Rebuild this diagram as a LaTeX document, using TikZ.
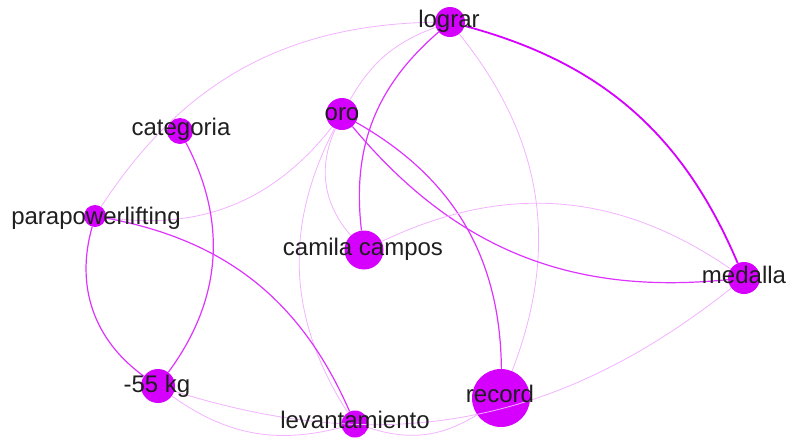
\documentclass[tikz,border=0pt]{standalone}
\usepackage{fontspec}
\setmainfont{Liberation Sans}
\usepackage{tikz}
\definecolor{vert}{RGB}{214,0,255}

\begin{document}
\begin{tikzpicture}[x=1pt,y=1pt,
  vtx/.style={circle,fill=vert,inner sep=0pt,minimum size=#1},
  lbl/.style={anchor=base,inner sep=0pt,text=black!88,font=\fontsize{24}{24}\selectfont},
  wthick/.style={draw=vert,line width=1.8pt},
  wmid/.style={draw=vert!80,line width=1.2pt},
  wthin/.style={draw=vert!30,line width=0.8pt}]
\useasboundingbox (0,0) rectangle (787,-440);
\clip (0,0) rectangle (787,-440);

%Shape: Circle
\node[vtx=30pt] (lograr) at (450,-22) {};
\node[vtx=32pt] (oro) at (342,-114) {};
\node[vtx=26pt] (categoria) at (180,-131) {};
\node[vtx=22pt] (para) at (95,-216) {};
\node[vtx=39pt] (camila) at (364,-250) {};
\node[vtx=32pt] (medalla) at (744,-278) {};
\node[vtx=34pt] (kg) at (158,-386) {};
\node[vtx=27pt] (levant) at (355,-424) {};
\node[vtx=58pt] (record) at (501,-398) {};

%Straight Lines
\draw[wthick] (lograr) to[bend left=26] (medalla);
\draw[wthin] (lograr) to[bend right=28] (para);
\draw[wthin] (lograr) to[bend right=20] (oro);
\draw[wmid] (lograr) to[bend right=28] (camila);
\draw[wthin] (lograr) to[bend left=30] (record);
\draw[wmid] (oro) to[bend right=28] (medalla);
\draw[wmid] (oro) to[bend left=30] (record);
\draw[wthin] (oro) to[bend left=30] (para);
\draw[wthin] (oro) to[bend right=33] (camila);
\draw[wthin] (oro) to[bend right=30] (levant);
\draw[wmid] (categoria) to[bend left=32] (kg);
\draw[wmid] (para) to[bend right=35] (kg);
\draw[wmid] (para) to[bend left=28] (levant);
\draw[wthin] (camila) to[bend left=30] (medalla);
\draw[wthin] (medalla) to[bend left=28] (kg);
\draw[wthin] (kg) to[bend right=25] (levant);
\draw[wthin] (levant) to[bend right=25] (record);

% Text Node
\node[lbl] (lograr-t) at (449,-27) {lograr};
\node[lbl] (oro-t) at (342,-120) {oro};
\node[lbl] (categoria-t) at (181,-135) {categoria};
\node[lbl] (para-t) at (96,-224) {parapowerlifting};
\node[lbl] (camila-t) at (363,-255) {camila campos};
\node[lbl] (medalla-t) at (744,-283) {medalla};
\node[lbl] (kg-t) at (157,-392) {-55 kg};
\node[lbl] (levant-t) at (355,-428) {levantamiento};
\node[lbl] (record-t) at (500,-402) {record};
\end{tikzpicture}
\end{document}
